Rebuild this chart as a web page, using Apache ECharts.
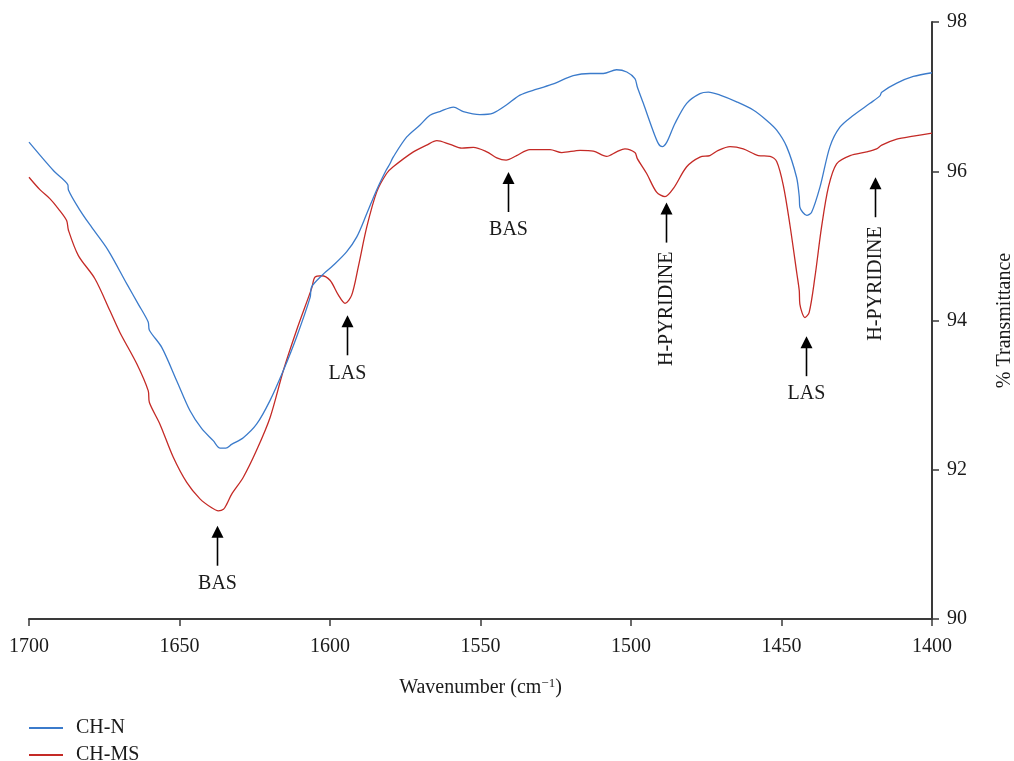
<!DOCTYPE html>
<html>
<head>
<meta charset="utf-8">
<title>Pyridine FTIR spectra</title>
<script src="https://cdn.jsdelivr.net/npm/echarts@6/dist/echarts.min.js"></script>
<style>
  html, body { margin: 0; padding: 0; background: #ffffff; overflow: hidden; }
  #chart { width: 1014px; height: 761px; }
</style>
</head>
<body>
<div id="chart"></div>
<script>
// Wavenumber (cm-1) and % transmittance for the CH-N sample
const wnN = [1700.0, 1691.9, 1687.1, 1686.9, 1683.1, 1679.2, 1673.7, 1667.5, 1663.7, 1660.4,
  1660.0, 1655.9, 1650.9, 1646.5, 1642.6, 1638.8, 1636.5, 1634.6, 1632.7, 1628.8,
  1624.4, 1619.9, 1615.5, 1611.1, 1606.6, 1606.1, 1602.8, 1598.9, 1594.5, 1591.1,
  1587.8, 1584.5, 1581.4, 1580.1, 1579.0, 1574.5, 1570.1, 1566.8, 1563.5, 1559.0,
  1555.7, 1550.2, 1545.8, 1541.3, 1536.9, 1531.3, 1525.8, 1519.2, 1513.6, 1509.2,
  1504.8, 1501.4, 1498.7, 1497.9, 1495.9, 1493.1, 1490.9, 1489.6, 1488.1, 1485.4,
  1481.5, 1477.1, 1474.3, 1470.4, 1464.9, 1459.4, 1454.9, 1451.6, 1448.3, 1445.0,
  1444.1, 1443.9, 1441.6, 1440.0, 1437.2, 1433.9, 1430.6, 1426.1, 1420.6, 1417.3,
  1416.7, 1411.7, 1406.2, 1400.0];
const tN = [96.39, 96.01, 95.82, 95.75, 95.48, 95.25, 94.94, 94.49, 94.22, 93.98,
  93.87, 93.64, 93.19, 92.79, 92.55, 92.39, 92.29, 92.29, 92.34, 92.43,
  92.61, 92.93, 93.33, 93.78, 94.31, 94.45, 94.60, 94.74, 94.92, 95.12,
  95.43, 95.75, 96.01, 96.10, 96.19, 96.46, 96.62, 96.75, 96.80, 96.86,
  96.80, 96.76, 96.78, 96.89, 97.02, 97.10, 97.17, 97.28, 97.31, 97.31,
  97.36, 97.33, 97.24, 97.13, 96.91, 96.59, 96.37, 96.33, 96.39, 96.64,
  96.91, 97.04, 97.06, 97.02, 96.93, 96.82, 96.68, 96.55, 96.33, 95.92,
  95.66, 95.52, 95.41, 95.45, 95.79, 96.33, 96.59, 96.75, 96.91, 97.01,
  97.06, 97.18, 97.27, 97.32];

// Wavenumber (cm-1) and % transmittance for the CH-MS sample
const wnMS = [1700.0, 1696.3, 1693.0, 1690.3, 1687.5, 1686.9, 1683.6, 1678.1, 1673.1, 1669.8,
  1664.2, 1660.4, 1660.0, 1656.5, 1652.1, 1647.6, 1643.2, 1639.3, 1637.1, 1635.4,
  1634.3, 1632.7, 1628.8, 1624.4, 1619.9, 1615.5, 1611.1, 1606.1, 1605.0, 1602.8,
  1600.0, 1597.2, 1595.0, 1592.8, 1590.6, 1587.8, 1584.5, 1581.2, 1579.0, 1572.3,
  1567.9, 1564.5, 1560.1, 1556.2, 1552.4, 1547.9, 1544.6, 1541.5, 1538.0, 1533.6,
  1526.9, 1523.0, 1516.9, 1512.5, 1508.1, 1504.8, 1502.0, 1498.7, 1497.9, 1494.8,
  1491.5, 1488.7, 1485.9, 1481.5, 1477.1, 1473.8, 1471.0, 1467.1, 1462.7, 1457.7,
  1453.8, 1451.6, 1449.4, 1447.2, 1444.9, 1444.1, 1443.9, 1442.2, 1440.8, 1438.9,
  1436.7, 1434.4, 1431.7, 1427.2, 1421.7, 1418.4, 1416.7, 1411.7, 1406.2, 1400.0];
const tMS = [95.92, 95.75, 95.63, 95.50, 95.34, 95.21, 94.87, 94.56, 94.13, 93.84,
  93.42, 93.06, 92.90, 92.61, 92.17, 91.83, 91.61, 91.49, 91.45, 91.47,
  91.54, 91.67, 91.90, 92.26, 92.70, 93.33, 93.87, 94.43, 94.58, 94.60,
  94.54, 94.34, 94.23, 94.34, 94.72, 95.25, 95.72, 95.97, 96.06, 96.26,
  96.35, 96.41, 96.36, 96.31, 96.32, 96.26, 96.18, 96.15, 96.21, 96.29,
  96.29, 96.25, 96.28, 96.27, 96.20, 96.26, 96.30, 96.25, 96.17, 95.97,
  95.72, 95.66, 95.77, 96.06, 96.19, 96.21, 96.28, 96.33, 96.30, 96.21,
  96.20, 96.13, 95.81, 95.28, 94.63, 94.40, 94.22, 94.04, 94.11, 94.58,
  95.25, 95.79, 96.10, 96.21, 96.26, 96.30, 96.35, 96.43, 96.47, 96.51];

// Axis ticks
const xTicks = [1700, 1650, 1600, 1550, 1500, 1450, 1400];
const yTicks = [90, 92, 94, 96, 98];

// Band assignments: label, wavenumber, transmittance where the arrow points
const bandLabels = ['BAS', 'LAS', 'BAS', 'H-PYRIDINE', 'LAS', 'H-PYRIDINE'];
const bandWn = [1637.5, 1594.5, 1540.9, 1488.4, 1441.9, 1418.9];
const bandTip = [91.25, 94.07, 95.99, 95.58, 93.79, 95.92];

const seriesNames = ['CH-N', 'CH-MS'];
const seriesColors = ['#3b7bcb', '#c42a26'];

const FONT = '"Liberation Serif", "DejaVu Serif", serif';
const INK = '#1a1a1a';
const AXIS = '#3a3a3a';

const pairs = (xs, ys) => xs.map((x, i) => [x, ys[i]]);

const chart = echarts.init(document.getElementById('chart'), null, { renderer: 'canvas' });

const legendItem = (name, top) => ({
  orient: 'vertical',
  left: 29,
  top: top,
  padding: 0,
  icon: 'rect',
  itemWidth: 34,
  itemHeight: 2,
  itemGap: 0,
  data: [name],
  textStyle: { fontFamily: FONT, fontSize: 20, color: INK, padding: [0, 0, 0, 8] }
});

chart.setOption({
  backgroundColor: '#ffffff',
  animation: false,
  textStyle: { fontFamily: FONT, color: INK },
  grid: { left: 29, right: 82, top: 22, bottom: 142, containLabel: false, outerBoundsMode: 'none' },
  legend: [legendItem(seriesNames[0], 718), legendItem(seriesNames[1], 745)],
  xAxis: {
    type: 'value',
    inverse: true,
    min: xTicks[xTicks.length - 1],
    max: xTicks[0],
    interval: 50,
    name: 'Wavenumber (cm{sup|−1})',
    nameLocation: 'middle',
    nameGap: 58,
    nameTextStyle: {
      fontFamily: FONT, fontSize: 20, color: INK,
      rich: { sup: { fontFamily: FONT, fontSize: 13, color: INK, verticalAlign: 'top', padding: [0, 0, 9, 0] } }
    },
    axisLine: { show: true, lineStyle: { color: AXIS, width: 2 } },
    axisTick: { show: true, inside: false, length: 7, lineStyle: { color: AXIS, width: 1.5 } },
    axisLabel: { fontFamily: FONT, fontSize: 20, color: INK, margin: 18, formatter: v => String(v) },
    splitLine: { show: false }
  },
  yAxis: {
    type: 'value',
    position: 'right',
    min: yTicks[0],
    max: yTicks[yTicks.length - 1],
    interval: 2,
    name: '% Transmittance',
    nameLocation: 'middle',
    nameRotate: 90,
    nameGap: 63,
    nameTextStyle: { fontFamily: FONT, fontSize: 20, color: INK },
    axisLine: { show: true, lineStyle: { color: AXIS, width: 2 } },
    axisTick: { show: true, inside: false, length: 7, lineStyle: { color: AXIS, width: 1.5 } },
    axisLabel: { fontFamily: FONT, fontSize: 20, color: INK, margin: 15, formatter: v => String(v) },
    splitLine: { show: false }
  },
  series: [
    {
      name: seriesNames[0],
      type: 'line',
      data: pairs(wnN, tN),
      symbol: 'none',
      smooth: 0.3,
      lineStyle: { color: seriesColors[0], width: 1.3 },
      itemStyle: { color: seriesColors[0] },
      z: 3
    },
    {
      name: seriesNames[1],
      type: 'line',
      data: pairs(wnMS, tMS),
      symbol: 'none',
      smooth: 0.3,
      lineStyle: { color: seriesColors[1], width: 1.3 },
      itemStyle: { color: seriesColors[1] },
      z: 2
    }
  ]
});

// Upward arrows under each band with its assignment label
function drawBands() {
  const elements = [];
  const shaft = 40, headH = 12, headW = 12;
  bandLabels.forEach((label, i) => {
    const p = chart.convertToPixel({ xAxisIndex: 0, yAxisIndex: 0 }, [bandWn[i], bandTip[i]]);
    const x = Math.round(p[0]) + 0.5, y = p[1];
    elements.push({
      type: 'polygon',
      shape: { points: [[x, y], [x - headW / 2, y + headH], [x + headW / 2, y + headH]] },
      style: { fill: '#000' }
    });
    elements.push({
      type: 'line',
      shape: { x1: x, y1: y + headH - 1, x2: x, y2: y + shaft },
      style: { stroke: '#000', lineWidth: 1.6 }
    });
    const rotated = label.length > 4;
    if (rotated) {
      elements.push({
        type: 'text',
        x: x, y: y + shaft + 9,
        rotation: Math.PI / 2,
        style: { text: label, font: '20px ' + FONT, fill: INK, align: 'right', verticalAlign: 'middle' }
      });
    } else {
      elements.push({
        type: 'text',
        x: x, y: y + shaft + 18,
        style: { text: label, font: '20px ' + FONT, fill: INK, align: 'center', verticalAlign: 'middle' }
      });
    }
  });
  chart.setOption({ graphic: { elements: elements } });
}
drawBands();
</script>
</body>
</html>
